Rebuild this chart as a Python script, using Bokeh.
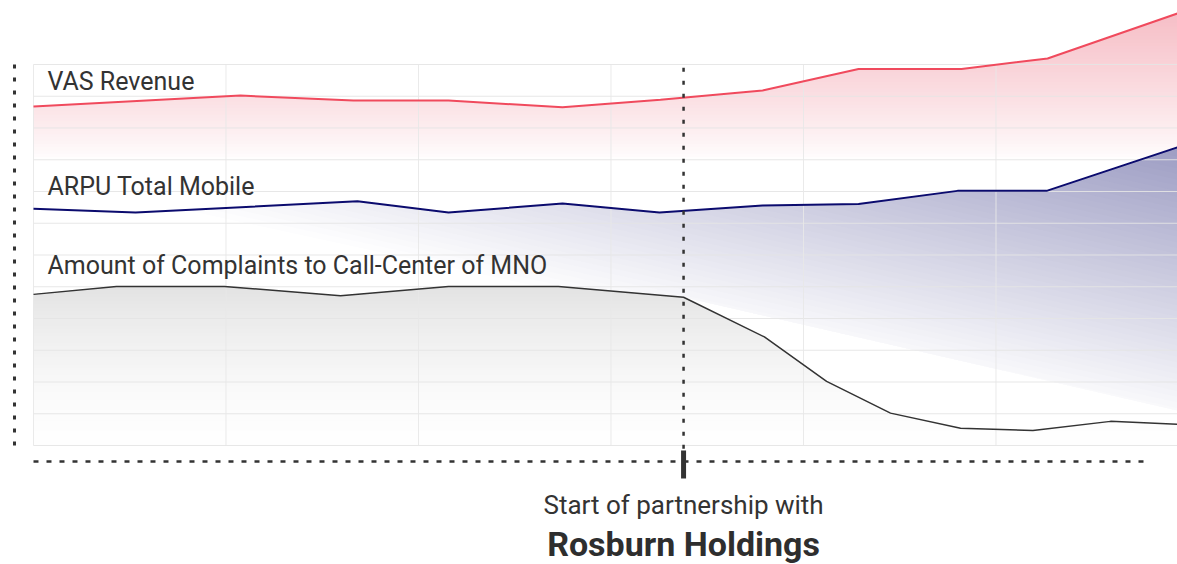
from bokeh.plotting import figure
from bokeh.models import Range1d, ColumnDataSource
from bokeh.core.properties import value
from bokeh.embed import file_html
from bokeh.resources import INLINE

# ---------------- data ----------------
red_x = [0, 10.75, 16.62, 21.56, 27.48, 32.57, 37.87, 42.86, 48.21, 52.68, 59.43]
red_y = [106.8, 110.2, 108.7, 108.7, 106.5, 108.9, 111.8, 118.6, 118.6, 121.9, 136.1]

blue_x = [0, 5.30, 16.83, 21.56, 27.48, 32.52, 37.87, 42.86, 48.0, 52.63, 59.43]
blue_y = [74.6, 73.4, 76.9, 73.4, 76.2, 73.4, 75.6, 76.1, 80.2, 80.2, 93.9]

black_x = [0, 4.31, 9.92, 15.95, 21.56, 27.27, 33.77, 37.97, 41.2, 44.52, 48.16, 51.92, 55.95, 59.43]
black_y = [47.6, 50.1, 50.1, 47.2, 50.1, 50.1, 46.7, 34.2, 20.2, 10.2, 5.4, 4.7, 7.6, 6.7]

series_labels = ["VAS Revenue", "ARPU Total Mobile", "Amount of Complaints to Call-Center of MNO"]
label_y = [114.6, 81.6, 56.7]

partnership_x = 33.77
partnership_text = ["Start of partnership with", "Rosburn Holdings"]
partnership_text_y = [-18.6, -31.0]

grid_y = [0, 10, 20, 30, 40, 50, 60, 70, 80, 90, 100, 110, 120]
grid_x = [0, 10, 20, 30, 40, 50]

red_fill_floor = 89.8
blue_fill_floor_end = 11.0

X_START, X_END = -1.714, 59.429
Y_START, Y_END = -37.48, 140.16

# ---------------- helpers ----------------
def clip(poly, nx, ny, c):
    """keep part of polygon where nx*x + ny*y >= c"""
    out = []
    n = len(poly)
    for i in range(n):
        px, py = poly[i]
        qx, qy = poly[(i + 1) % n]
        dp = nx * px + ny * py - c
        dq = nx * qx + ny * qy - c
        if dp >= 0:
            out.append((px, py))
        if (dp >= 0) != (dq >= 0):
            t = dp / (dp - dq)
            out.append((px + t * (qx - px), py + t * (qy - py)))
    return out

def hexc(r, g, b):
    return "#%02x%02x%02x" % (int(round(r)), int(round(g)), int(round(b)))

def lerp(c0, c1, t):
    return tuple(a + (b - a) * t for a, b in zip(c0, c1))

def add_bands(p, polys, colors):
    xs, ys, cs = [], [], []
    for poly, col in zip(polys, colors):
        if len(poly) >= 3:
            xs.append([q[0] for q in poly])
            ys.append([q[1] for q in poly])
            cs.append(col)
    src = ColumnDataSource(dict(xs=xs, ys=ys, c=cs))
    p.patches("xs", "ys", source=src, fill_color="c", line_color=None)

# ---------------- figure ----------------
p = figure(width=1177, height=564, x_range=Range1d(X_START, X_END), y_range=Range1d(Y_START, Y_END),
           output_backend="svg", toolbar_location=None, min_border=0,
           x_axis_location=None, y_axis_location=None, outline_line_color=None)
p.grid.visible = False
p.background_fill_color = "white"
p.border_fill_color = "white"

# red area: vertical gradient
red_poly = list(zip(red_x, red_y)) + [(red_x[-1], red_fill_floor), (red_x[0], red_fill_floor)]
top = max(red_y)
N = 45
polys, cols = [], []
for k in range(N):
    s = k / N
    lvl = red_fill_floor + s * (top - red_fill_floor)
    polys.append(clip(red_poly, 0, 1, lvl))
    cols.append(hexc(*lerp((255, 255, 255), (246, 190, 198), ((k + 0.5) / N) ** 0.85)))
add_bands(p, polys, cols)

# blue area: diagonal gradient
pre = [(x, y) for x, y in zip(black_x, black_y) if x <= partnership_x]
blue_poly = list(zip(blue_x, blue_y)) + [(blue_x[-1], blue_fill_floor_end)] + pre[::-1]
polys, cols = [], []
for g in range(254, 148, -2):
    polys.append(clip(blue_poly, 1.463, 1.111, 348 - g))
    gg = g - 1
    cols.append(hexc(gg, gg, 255 - 0.61 * (255 - gg)))
add_bands(p, polys, cols)

# grey area: vertical gradient
grey_poly = list(zip(black_x, black_y)) + [(black_x[-1], 0), (black_x[0], 0)]
gtop = max(black_y)
polys, cols = [], []
for k in range(N):
    s = k / N
    polys.append(clip(grey_poly, 0, 1, s * gtop))
    v = 254 + (227 - 254) * ((k + 0.5) / N) ** 1.6
    cols.append(hexc(v, v, v))
add_bands(p, polys, cols)

# grid
p.segment(x0=[0] * len(grid_y), x1=[X_END] * len(grid_y), y0=grid_y, y1=grid_y,
          line_color="#e4e4e4", line_width=1, line_alpha=0.9)
p.segment(x0=grid_x, x1=grid_x, y0=[0] * len(grid_x), y1=[max(grid_y)] * len(grid_x),
          line_color="#e8e8e8", line_width=1, line_alpha=0.9)

# series lines
p.line(red_x, red_y, line_color="#f04a5d", line_width=2)
p.line(blue_x, blue_y, line_color="#0b0b6e", line_width=2)
p.line(black_x, black_y, line_color="#333333", line_width=1.5)

# decorations
p.segment(x0=[-0.987], x1=[-0.987], y0=[0], y1=[max(grid_y)], line_color="#333333",
          line_width=3, line_dash="4 9")
p.segment(x0=[partnership_x], x1=[partnership_x], y0=[-1.0], y1=[max(grid_y)], line_color="#333333",
          line_width=2.5, line_dash="4 9")
p.segment(x0=[0], x1=[57.77], y0=[-5.04], y1=[-5.04], line_color="#333333",
          line_width=2.5, line_dash="5 8")
p.segment(x0=[partnership_x], x1=[partnership_x], y0=[-1.57], y1=[-10.39], line_color="#333333",
          line_width=5)

# texts
p.text(x=[0.727] * 3, y=label_y, text=series_labels, text_font=value("Roboto"),
       text_font_size="25px", text_color="#333333", text_baseline="alphabetic", text_align="left")
p.text(x=[partnership_x], y=[partnership_text_y[0]], text=[partnership_text[0]], text_font=value("Roboto"),
       text_font_size="26px", text_color="#333333", text_baseline="alphabetic", text_align="center")
p.text(x=[partnership_x], y=[partnership_text_y[1]], text=[partnership_text[1]], text_font=value("Roboto"),
       text_font_size="34px", text_font_style="bold", text_color="#2e2e2e",
       text_baseline="alphabetic", text_align="center")

open("out.html", "w").write(file_html(p, INLINE))
